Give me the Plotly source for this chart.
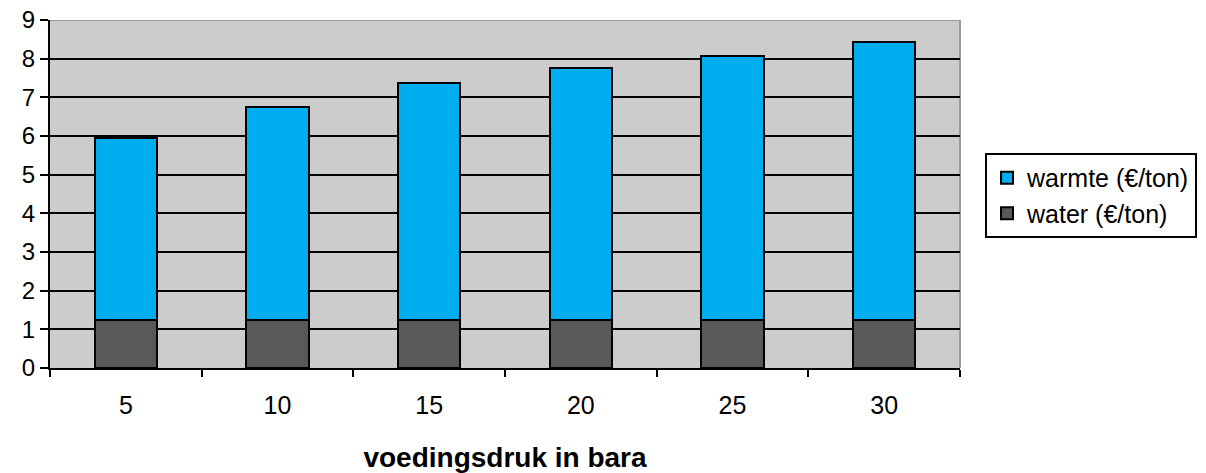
import plotly.graph_objects as go

# Feed pressure categories (bara) and cost components (€/ton)
druk = ["5", "10", "15", "20", "25", "30"]
water = [1.23, 1.23, 1.23, 1.23, 1.23, 1.23]
totaal = [5.94, 6.75, 7.38, 7.76, 8.07, 8.44]
warmte = [round(t - w, 2) for t, w in zip(totaal, water)]
y_ticks = [0, 1, 2, 3, 4, 5, 6, 7, 8, 9]

FONT = "Liberation Sans, Arial, sans-serif"

fig = go.Figure()
fig.add_trace(go.Bar(
    x=druk, y=water, name="water (€/ton)",
    marker=dict(color="#58595B", line=dict(color="black", width=2)),
    width=0.41,
))
fig.add_trace(go.Bar(
    x=druk, y=warmte, name="warmte (€/ton)",
    marker=dict(color="#00ADEE", line=dict(color="black", width=2)),
    width=0.41,
))

# Grey frame along the top and right edge of the plot area
fig.add_shape(type="line", xref="paper", yref="y", x0=0, x1=1, y0=9, y1=9,
              line=dict(color="#9A9A9A", width=2), layer="above")
fig.add_shape(type="line", xref="paper", yref="y", x0=1, x1=1, y0=0, y1=9,
              line=dict(color="#9A9A9A", width=2), layer="below")

fig.update_layout(
    width=1206, height=473,
    margin=dict(l=50, r=246, t=20, b=105, autoexpand=False),
    barmode="stack",
    paper_bgcolor="white",
    plot_bgcolor="#CCCCCC",
    font=dict(family=FONT, size=24, color="black"),
    showlegend=True,
    legend=dict(
        traceorder="reversed",
        x=1.0275, xanchor="left",
        y=0.618, yanchor="top",
        bgcolor="white",
        bordercolor="black", borderwidth=2,
        font=dict(family=FONT, size=25, color="black"),
        itemwidth=30,
        tracegroupgap=0,
    ),
    xaxis=dict(
        type="category",
        automargin=False,
        showgrid=False,
        showline=True, linecolor="black", linewidth=2,
        ticks="outside", tickson="boundaries", ticklen=7, tickwidth=2, tickcolor="black",
        tickfont=dict(family=FONT, size=25),
        ticklabelstandoff=14,
        title=dict(text="<b>voedingsdruk in bara</b>", font=dict(family=FONT, size=28), standoff=40),
    ),
    yaxis=dict(
        range=[0, 9],
        automargin=False,
        tickvals=y_ticks,
        showgrid=True, gridcolor="black", gridwidth=2,
        showline=True, linecolor="black", linewidth=2,
        ticks="outside", ticklen=8, tickwidth=2, tickcolor="black",
        tickfont=dict(family=FONT, size=24),
        zeroline=False,
    ),
)

fig.write_html("out.html")
